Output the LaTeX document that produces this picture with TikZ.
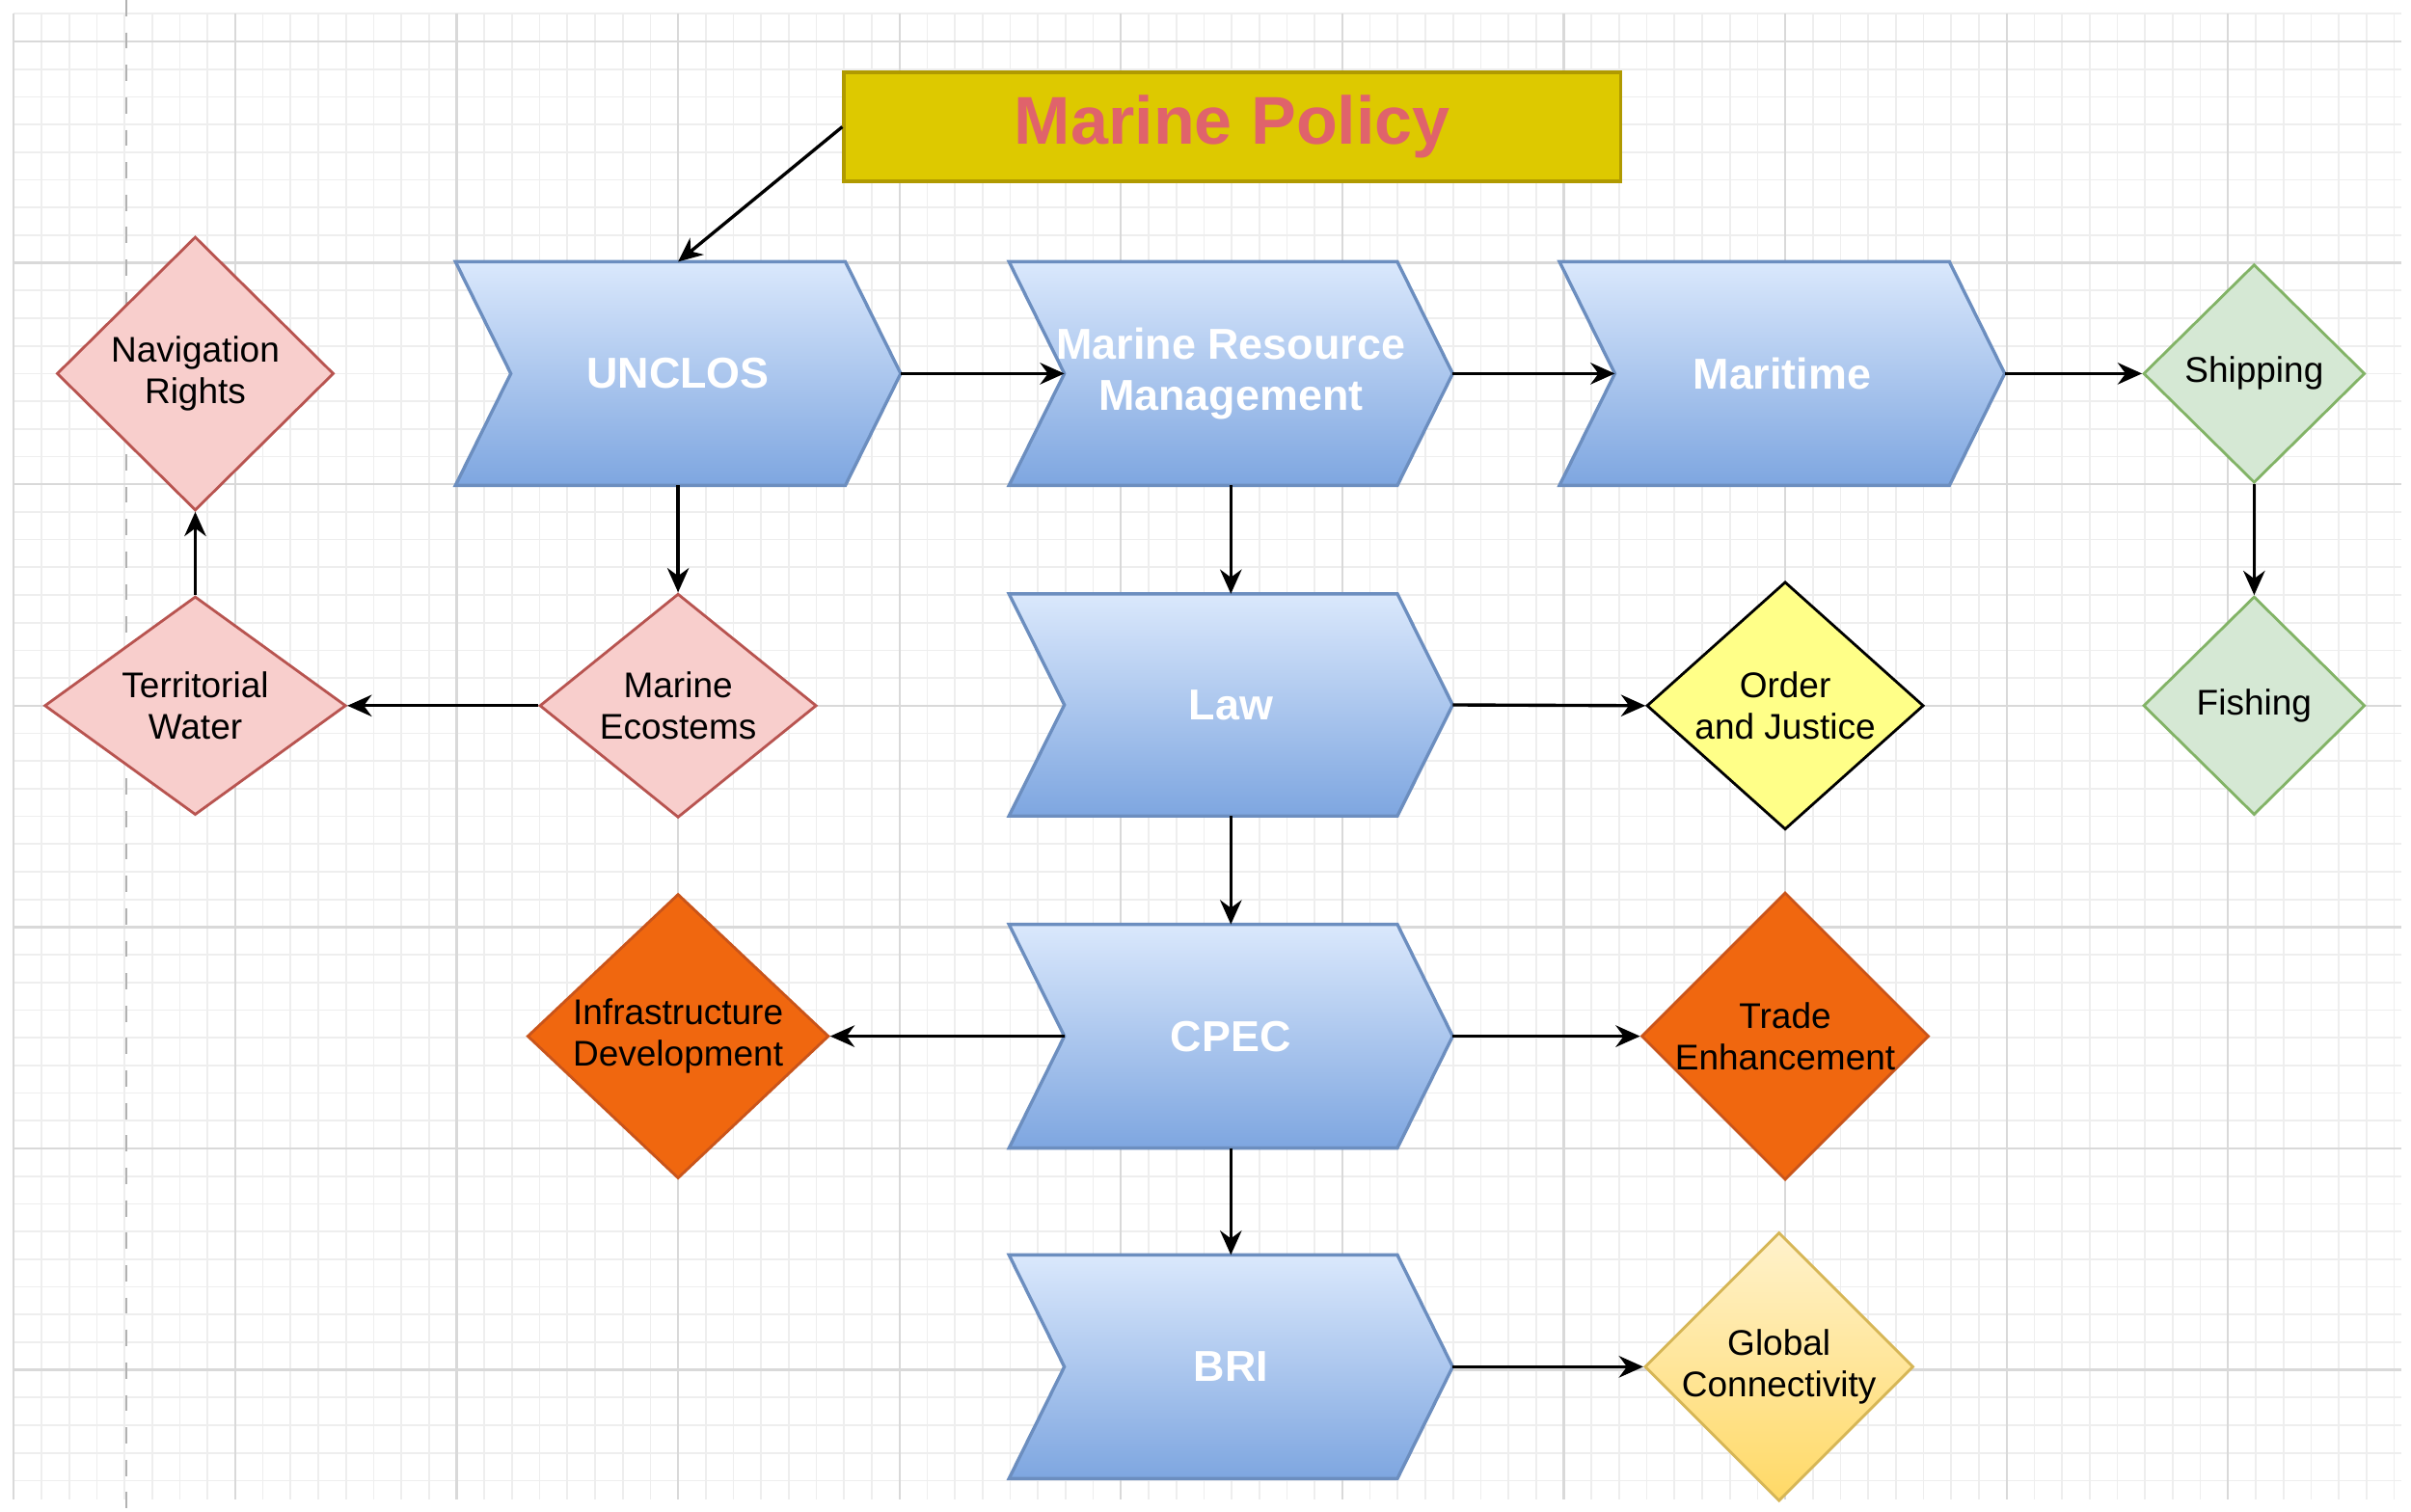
\documentclass[tikz,border=0pt]{standalone}
\usepackage{fontspec}
\setmainfont{Liberation Sans}
\usetikzlibrary{shapes.geometric,calc,arrows.meta}
\definecolor{gmin}{HTML}{EEEEEE}
\definecolor{gmaj}{HTML}{D9D9D9}
\definecolor{cbtop}{HTML}{DAE8FC}
\definecolor{cbbot}{HTML}{7EA6E0}
\definecolor{cbline}{HTML}{6C8EBF}
\definecolor{pinkf}{HTML}{F8CECC}
\definecolor{pinkd}{HTML}{B85450}
\definecolor{greenf}{HTML}{D5E8D4}
\definecolor{greend}{HTML}{82B366}
\definecolor{orangef}{HTML}{F0670F}
\definecolor{oranged}{HTML}{C9541A}
\definecolor{yellowf}{HTML}{FFFF88}
\definecolor{goldt}{HTML}{FFF2CC}
\definecolor{goldb}{HTML}{FFD966}
\definecolor{goldd}{HTML}{D6B656}
\definecolor{titlef}{HTML}{DDC900}
\definecolor{titled}{HTML}{B09A00}
\definecolor{titlet}{HTML}{E0636B}
\begin{document}
\begin{tikzpicture}[x=0.01cm,y=-0.01cm,
  box/.style={rectangle,minimum width=#1,inner sep=0},
  chevtxt/.style={text=white,font=\fontsize{8pt}{9.4pt}\selectfont\bfseries,align=center},
  dia/.style={diamond,draw,line width=0.5pt,inner sep=0,align=center,font=\fontsize{6.6pt}{7.6pt}\selectfont},
  pinkd/.style={dia,fill=pinkf,draw=pinkd},
  greend/.style={dia,fill=greenf,draw=greend},
  orng/.style={dia,fill=orangef,draw=oranged},
  arr/.style={-{Stealth[length=4.5pt,width=4pt]},line width=0.6pt}]
\useasboundingbox (0,0) rectangle (1568,983);
\fill[white] (0,0) rectangle (1568,983);
% grid
\foreach \x in {9,27,...,1562} \draw[gmin,line width=0.3pt] (\x,9)--(\x,975);
\foreach \y in {9,27,...,975} \draw[gmin,line width=0.3pt] (9,\y)--(1562,\y);
\foreach \x in {9,153,...,1562} \draw[gmaj,line width=0.4pt] (\x,9)--(\x,975);
\foreach \y in {27,171,...,975} \draw[gmaj,line width=0.4pt] (9,\y)--(1562,\y);
\draw[gray!60,dashed,line width=0.3pt] (82,0)--(82,983);
% title
\node[draw=titled,fill=titlef,line width=0.6pt,minimum width=505\pgflinewidth*0+5.05cm,minimum height=0.71cm,inner sep=0,text=titlet,font=\fontsize{12.5pt}{14pt}\selectfont\bfseries] (title) at (801.5,82.5) {Marine Policy};
% chevrons
\newcommand\mychev[6]{%
  \node[inner sep=0,minimum width=#4cm,minimum height=#5cm] (#1) at (#2,#3) {};
  \path[draw=cbline,line width=0.6pt,top color=cbtop,bottom color=cbbot]
    (#1.north west) -- ($(#1.north east)+(-36,0)$) -- (#1.east) -- ($(#1.south east)+(-36,0)$)
    -- (#1.south west) -- ($(#1.west)+(36,0)$) -- cycle;
  \coordinate (#1-in) at ($(#1.west)+(36,0)$);
  \node[chevtxt] at ($(#1.center)+(0,0)$) {#6};}
\mychev{unclos}{441}{243}{2.88}{1.44}{UNCLOS}
\mychev{mrm}{800.5}{243}{2.87}{1.44}{Marine Resource\\Management}
\mychev{mar}{1159}{243}{2.88}{1.44}{Maritime}
\mychev{law}{800.5}{458.5}{2.87}{1.43}{Law}
\mychev{cpec}{800.5}{674}{2.87}{1.44}{CPEC}
\mychev{bri}{800.5}{889}{2.87}{1.44}{BRI}
% diamonds
\node[pinkd,minimum width=1.80cm,minimum height=1.78cm] (nav) at (127,243) {Navigation\\Rights};
\node[pinkd,minimum width=1.96cm,minimum height=1.42cm] (terr) at (127,459) {Territorial\\Water};
\node[pinkd,minimum width=1.80cm,minimum height=1.42cm] (eco) at (441,459) {Marine\\Ecostems};
\node[greend,minimum width=1.44cm,minimum height=1.42cm] (ship) at (1466,243) {Shipping};
\node[greend,minimum width=1.44cm,minimum height=1.42cm] (fish) at (1466,459) {Fishing};
\node[dia,fill=yellowf,draw=black,minimum width=1.80cm,minimum height=1.60cm] (order) at (1161,459) {Order\\and Justice};
\node[orng,minimum width=1.96cm,minimum height=1.80cm] (infra) at (441,674) {Infrastructure\\Development};
\node[orng,minimum width=1.80cm,minimum height=1.80cm] (trade) at (1161,674) {Trade\\Enhancement};
\node[dia,draw=goldd,top color=goldt,bottom color=goldb,minimum width=1.72cm,minimum height=1.52cm] (glob) at (1157,889) {Global\\Connectivity};
% connectors
\draw[arr] (title.west) -- (unclos.north);
\draw[arr] (unclos.east) -- (mrm-in);
\draw[arr] (mrm.east) -- (mar-in);
\draw[arr] (mar.east) -- (ship.west);
\draw[arr] (ship.south) -- (fish.north);
\draw[arr] (mrm.south) -- (law.north);
\draw[arr] (law.east) -- (order.west);
\draw[arr] (law.south) -- (cpec.north);
\draw[arr] (cpec-in) -- (infra.east);
\draw[arr] (cpec.east) -- (trade.west);
\draw[arr] (cpec.south) -- (bri.north);
\draw[arr] (bri.east) -- (glob.west);
\draw[arr] (unclos.south) -- (eco.north);
\draw[arr] (eco.west) -- (terr.east);
\draw[arr] (terr.north) -- (nav.south);
\end{tikzpicture}
\end{document}
